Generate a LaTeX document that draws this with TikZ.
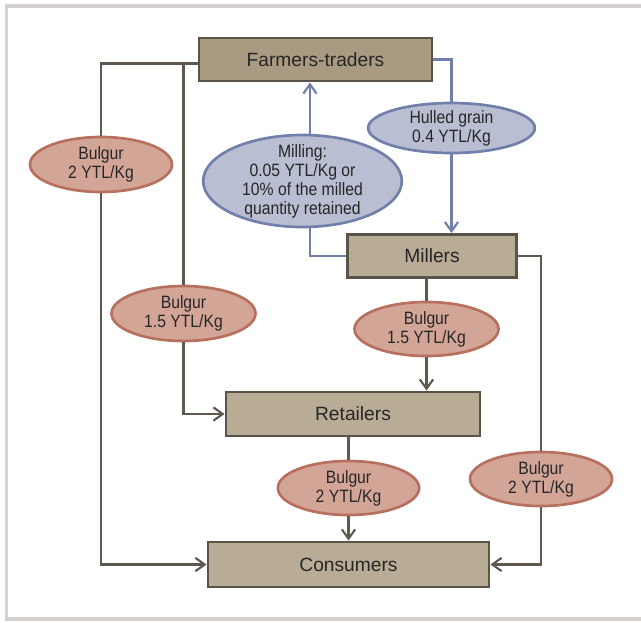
\documentclass[tikz,border=0pt]{standalone}
\usepackage{fontspec}
\setmainfont{Liberation Sans}
\newfontfamily\ellfont[FakeStretch=0.88]{Liberation Sans}
\usetikzlibrary{shapes.geometric, arrows.meta}

\definecolor{boxfill}{HTML}{B9AC96}
\definecolor{boxdark}{HTML}{A99B81}
\definecolor{boxline}{HTML}{5A5448}
\definecolor{redfill}{HTML}{D3A597}
\definecolor{redline}{HTML}{B7705E}
\definecolor{bluefill}{HTML}{B9BED2}
\definecolor{blueline}{HTML}{7080AB}
\definecolor{flowline}{HTML}{5F584F}
\definecolor{framegray}{HTML}{D6D0CF}
\definecolor{txt}{HTML}{262626}

\tikzset{
	actor/.style={draw=boxline, fill=boxfill, line width=2.2pt, text=txt,
		font=\fontsize{14.4}{16}\selectfont, inner sep=0pt},
	price/.style={ellipse, draw=redline, fill=redfill, line width=2pt, text=txt,
		align=center, inner xsep=0pt, inner ysep=-5pt,
		font=\ellfont\fontsize{13.4}{14.25}\selectfont},
	service/.style={price, draw=blueline, fill=bluefill},
	flow/.style={draw=flowline, line width=1.6pt},
	bflow/.style={draw=blueline, line width=1.6pt},
	>={Straight Barb[length=7pt, width=10pt, line width=1.6pt]}
}

\begin{document}
\begin{tikzpicture}[x=0.75pt, y=-0.75pt]
	\useasboundingbox (0, 0) rectangle (641, 622);
	\draw [framegray, line width=2.4pt] (700, 6) -- (6.5, 6) -- (6.5, 619) -- (700, 619);

	% actors
	\node [actor, fill=boxdark, minimum width=174.75pt, minimum height=32.25pt] (ft) at (315.5, 59.5) {Farmers-traders};
	\node [actor, minimum width=126.75pt, minimum height=32.25pt] (mill) at (432, 256) {Millers};
	\node [actor, minimum width=190.5pt, minimum height=33pt] (ret) at (353, 414) {Retailers};
	\node [actor, minimum width=210.75pt, minimum height=33.75pt] (cons) at (348.5, 564.5) {Consumers};

	% prices and services
	\node [price, minimum width=106.5pt, minimum height=41.25pt] (bfc) at (101, 164.5) {Bulgur\\2 YTL/Kg};
	\node [price, minimum width=108pt, minimum height=41.25pt] (bfr) at (183.5, 313.5) {Bulgur\\1.5 YTL/Kg};
	\node [price, minimum width=108pt, minimum height=40.5pt] (bmr) at (426.5, 329) {Bulgur\\1.5 YTL/Kg};
	\node [price, minimum width=106pt, minimum height=40.5pt] (brc) at (348.5, 488) {Bulgur\\2 YTL/Kg};
	\node [price, minimum width=106.5pt, minimum height=40.5pt] (bmc) at (541, 479) {Bulgur\\2 YTL/Kg};
	\node [service, minimum width=149pt, minimum height=69pt] (mil) at (302.5, 181) {Milling:\\0.05 YTL/Kg or\\10\% of the milled\\quantity retained};
	\node [service, minimum width=125pt, minimum height=37.5pt] (hul) at (451.5, 128) {Hulled grain\\0.4 YTL/Kg};

	% farmers-traders to consumers and retailers
	\draw [flow] ([yshift=-3pt]ft.west) -| (bfc.north);
	\draw [flow, ->] (bfc.south) |- (cons.west);
	\draw [flow] ([yshift=-3pt]ft.west) -| (bfr.north);
	\draw [flow, ->] (bfr.south) |- (ret.west);

	% grain to millers and back
	\draw [bflow] (ft.east) -| (hul.north);
	\draw [bflow, ->] (hul.south) -- (hul.south |- mill.north);
	\draw [bflow] (mill.west) -| ([xshift=5.6pt]mil.south);
	\draw [bflow, ->] ([xshift=5.6pt]mil.north) -- ([xshift=5.6pt]mil.north |- ft.south);

	% millers to retailers and consumers
	\draw [flow] (mill.south -| bmr.north) -- (bmr.north);
	\draw [flow, ->] (bmr.south) -- (bmr.south |- ret.north);
	\draw [flow] (mill.east) -| (bmc.north);
	\draw [flow, ->] (bmc.south) |- (cons.east);

	% retailers to consumers
	\draw [flow] (ret.south -| brc.north) -- (brc.north);
	\draw [flow, ->] (brc.south) -- (cons.north);
\end{tikzpicture}
\end{document}
